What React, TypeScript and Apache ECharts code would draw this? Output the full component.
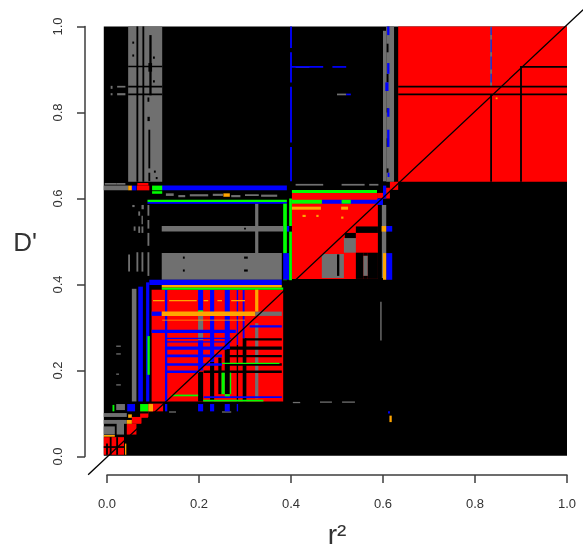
import React, { useEffect, useRef } from "react";
import * as echarts from "echarts";

type Block = [number, number, number, number];

const xTicks = { min: 0, max: 1, interval: 0.2 };
const diagonal = [[-0.041, -0.0426, 1.035, 1.039]];

const baseBlocks: Block[] = [[-0.007, 1, 0.002, 1]];

const redBlocks: Block[] = [
  [0.633, 1, 0.639, 1],
  [0.402, 0.589, 0.413, 0.613],
  [0.589, 0.615, 0.6, 0.613],
  [0.615, 0.633, 0.62, 0.639],
  [0.6, 0.615, 0.613, 0.625],
  [0.097, 0.383, 0.128, 0.388],
  [0.065, 0.092, 0.619, 0.63],
  [0.066, 0.09, 0.63, 0.636],
  [0.09, 0.122, 0.105, 0.123],
  [0.072, 0.09, 0.09, 0.105],
  [0.054, 0.075, 0.076, 0.092],
  [0.043, 0.064, 0.051, 0.076],
  [-0.007, 0.037, 0.004, 0.045],
];

const greyBlocks: Block[] = [
  [0.046, 0.12, 0.639, 1],
  [0.607, 0.624, 0.639, 1],
  [0.6, 0.607, 0.64, 0.99],
  [0.833, 0.837, 0.862, 1],
  [-0.007, 0.046, 0.619, 0.63],
  [0.119, 0.383, 0.523, 0.536],
  [0.119, 0.38, 0.411, 0.473],
  [0.322, 0.329, 0.473, 0.588],
  [0.054, 0.064, 0.128, 0.39],
  [0.322, 0.329, 0.135, 0.31],
  [0.322, 0.38, 0.327, 0.337],
  [0.198, 0.209, 0.27, 0.335],
  [-0.007, 0.043, 0.092, 0.101],
  [-0.007, 0.043, 0.076, 0.085],
  [-0.007, 0.017, 0.051, 0.07],
  [0.021, 0.037, 0.051, 0.085],
  [0.02, 0.039, 0.108, 0.122],
  [0.467, 0.515, 0.415, 0.471],
  [0.515, 0.541, 0.474, 0.508],
  [0.557, 0.567, 0.42, 0.467],
  [0.597, 0.607, 0.415, 0.585],
  [0.088, 0.092, 0.56, 0.585],
  [0.088, 0.092, 0.53, 0.55],
  [0.088, 0.092, 0.49, 0.52],
  [0.088, 0.092, 0.42, 0.475],
  [0.068, 0.072, 0.56, 0.57],
  [0.068, 0.072, 0.52, 0.535],
  [0.058, 0.062, 0.525, 0.535],
  [0.046, 0.05, 0.43, 0.47],
  [0.064, 0.068, 0.43, 0.475],
  [0.075, 0.079, 0.43, 0.475],
  [0.075, 0.079, 0.52, 0.535],
  [0.075, 0.08, 0.575, 0.585],
  [0.055, 0.06, 0.58, 0.585],
  [0.075, 0.078, 0.54, 0.56],
  [0.128, 0.145, 0.606, 0.612],
  [0.155, 0.17, 0.603, 0.608],
  [0.18, 0.22, 0.605, 0.61],
  [0.23, 0.252, 0.606, 0.611],
  [0.27, 0.29, 0.603, 0.608],
  [0.3, 0.33, 0.606, 0.61],
  [0.335, 0.37, 0.604, 0.609],
  [0.41, 0.47, 0.63, 0.634],
  [0.51, 0.56, 0.63, 0.634],
  [0.57, 0.59, 0.63, 0.634],
  [-0.005, 0.02, 0.632, 0.636],
  [0.02, 0.04, 0.632, 0.636],
  [0.463, 0.489, 0.125, 0.128],
  [0.511, 0.539, 0.125, 0.128],
  [0.404, 0.42, 0.124, 0.127],
  [0.25, 0.27, 0.102, 0.105],
  [0.135, 0.15, 0.102, 0.105],
  [0.02, 0.03, 0.255, 0.258],
  [0.02, 0.03, 0.237, 0.24],
  [0.02, 0.026, 0.19, 0.193],
  [0.02, 0.03, 0.165, 0.168],
  [0.008, 0.012, 0.855, 0.862],
  [0.022, 0.04, 0.858, 0.862],
  [0.008, 0.012, 0.84, 0.845],
  [0.022, 0.04, 0.84, 0.845],
  [0.41, 0.44, 0.904, 0.908],
  [0.5, 0.52, 0.84, 0.844],
  [0.594, 0.597, 0.27, 0.36],
];

const blackBlocks: Block[] = [
  [0.633, 1, 0.858, 0.862],
  [0.633, 1, 0.84, 0.844],
  [0.898, 1, 0.904, 0.908],
  [0.898, 0.902, 0.639, 0.906],
  [0.833, 0.837, 0.639, 0.842],
  [0.064, 0.068, 0.639, 1],
  [0.077, 0.081, 0.639, 1],
  [0.09, 0.094, 0.64, 0.66],
  [0.09, 0.094, 0.67, 0.76],
  [0.092, 0.097, 0.84, 0.98],
  [0.088, 0.093, 0.78, 0.79],
  [0.09, 0.098, 0.895, 0.915],
  [0.088, 0.092, 0.825, 0.835],
  [0.1, 0.104, 0.925, 0.93],
  [0.1, 0.104, 0.87, 0.875],
  [0.102, 0.106, 0.66, 0.665],
  [0.106, 0.11, 0.645, 0.65],
  [0.046, 0.12, 0.905, 0.909],
  [0.046, 0.12, 0.858, 0.862],
  [0.046, 0.12, 0.84, 0.844],
  [0.055, 0.059, 0.93, 0.935],
  [0.055, 0.059, 0.96, 0.965],
  [0.608, 0.612, 0.66, 0.67],
  [0.608, 0.612, 0.72, 0.74],
  [0.608, 0.612, 0.8, 0.81],
  [0.608, 0.612, 0.87, 0.89],
  [0.608, 0.612, 0.94, 0.96],
  [0.165, 0.169, 0.46, 0.465],
  [0.165, 0.169, 0.43, 0.435],
  [0.298, 0.306, 0.46, 0.465],
  [0.298, 0.306, 0.43, 0.435],
  [0.298, 0.302, 0.528, 0.532],
  [0.385, 0.39, 0.46, 0.465],
  [0.517, 0.541, 0.508, 0.52],
  [0.541, 0.589, 0.52, 0.535],
  [0.541, 0.557, 0.413, 0.474],
  [0.567, 0.589, 0.413, 0.474],
  [0.557, 0.567, 0.413, 0.42],
  [0.557, 0.567, 0.467, 0.474],
  [0.589, 0.597, 0.413, 0.6],
  [0.5, 0.505, 0.42, 0.47],
  [0.198, 0.209, 0.128, 0.197],
  [0.224, 0.233, 0.128, 0.22],
  [0.242, 0.249, 0.145, 0.23],
  [0.256, 0.267, 0.145, 0.25],
  [0.282, 0.285, 0.128, 0.26],
  [0.295, 0.303, 0.128, 0.275],
  [0.3, 0.38, 0.27, 0.275],
  [0.26, 0.38, 0.248, 0.256],
  [0.26, 0.38, 0.231, 0.236],
  [0.26, 0.38, 0.211, 0.217],
  [0.21, 0.38, 0.194, 0.2],
  [0.05, 0.09, 0.1, 0.105],
  [-0.002, 0.002, 0.004, 0.03],
  [0.006, 0.01, 0.004, 0.045],
  [0.02, 0.024, 0.004, 0.045],
  [-0.007, 0.037, 0.02, 0.024],
];

const blueBlocks: Block[] = [
  [0.119, 0.391, 0.619, 0.63],
  [0.088, 0.391, 0.588, 0.592],
  [0.467, 0.593, 0.588, 0.597],
  [0.383, 0.396, 0.523, 0.536],
  [0.383, 0.396, 0.411, 0.473],
  [0.092, 0.38, 0.399, 0.411],
  [0.068, 0.078, 0.128, 0.395],
  [0.085, 0.092, 0.128, 0.405],
  [0.054, 0.064, 0.619, 0.63],
  [0.126, 0.131, 0.128, 0.388],
  [0.198, 0.209, 0.335, 0.388],
  [0.198, 0.209, 0.2, 0.27],
  [0.224, 0.233, 0.22, 0.388],
  [0.256, 0.267, 0.25, 0.388],
  [0.282, 0.285, 0.26, 0.388],
  [0.295, 0.299, 0.275, 0.388],
  [0.126, 0.131, 0.105, 0.122],
  [0.198, 0.209, 0.105, 0.122],
  [0.224, 0.233, 0.105, 0.122],
  [0.256, 0.267, 0.105, 0.122],
  [0.282, 0.285, 0.105, 0.122],
  [0.044, 0.061, 0.105, 0.122],
  [0.097, 0.119, 0.327, 0.337],
  [0.097, 0.28, 0.287, 0.295],
  [0.126, 0.27, 0.273, 0.276],
  [0.126, 0.27, 0.265, 0.268],
  [0.126, 0.26, 0.248, 0.256],
  [0.13, 0.25, 0.231, 0.237],
  [0.13, 0.25, 0.211, 0.217],
  [0.13, 0.2, 0.194, 0.2],
  [0.31, 0.38, 0.3, 0.305],
  [0.21, 0.38, 0.136, 0.14],
  [0.398, 0.402, 0.64, 0.72],
  [0.398, 0.402, 0.73, 0.86],
  [0.398, 0.402, 0.87, 0.94],
  [0.398, 0.402, 0.95, 1],
  [0.4, 0.47, 0.904, 0.908],
  [0.49, 0.52, 0.904, 0.908],
  [0.52, 0.53, 0.84, 0.844],
  [0.834, 0.836, 0.87, 0.89],
  [0.834, 0.836, 0.9, 0.93],
  [0.834, 0.836, 0.94, 0.97],
  [0.834, 0.836, 0.98, 0.998],
  [0.609, 0.614, 0.98, 1],
  [0.609, 0.614, 0.89, 0.915],
  [0.605, 0.612, 0.85, 0.87],
  [0.609, 0.614, 0.79, 0.81],
  [0.609, 0.614, 0.72, 0.76],
  [0.61, 0.614, 0.65, 0.66],
  [0.587, 0.6, 0.585, 0.6],
  [0.6, 0.607, 0.6, 0.63],
  [0.607, 0.62, 0.523, 0.536],
  [0.607, 0.62, 0.411, 0.473],
  [0.611, 0.615, 0.1, 0.105],
];

const greenBlocks: Block[] = [
  [0.098, 0.12, 0.619, 0.63],
  [0.098, 0.12, 0.611, 0.617],
  [0.088, 0.391, 0.592, 0.597],
  [0.383, 0.391, 0.473, 0.588],
  [0.383, 0.391, 0.41, 0.411],
  [0.396, 0.402, 0.41, 0.523],
  [0.396, 0.402, 0.536, 0.6],
  [0.119, 0.383, 0.388, 0.393],
  [0.402, 0.587, 0.613, 0.62],
  [0.402, 0.467, 0.588, 0.597],
  [0.51, 0.53, 0.588, 0.597],
  [0.072, 0.09, 0.105, 0.122],
  [0.088, 0.093, 0.19, 0.28],
  [0.25, 0.375, 0.215, 0.218],
  [0.249, 0.256, 0.145, 0.195],
  [0.267, 0.27, 0.145, 0.195],
  [0.256, 0.267, 0.14, 0.145],
  [0.14, 0.198, 0.14, 0.144],
  [0.209, 0.34, 0.128, 0.132],
  [0.198, 0.209, 0.33, 0.34],
  [0.012, 0.016, 0.105, 0.12],
];

const orangeBlocks: Block[] = [
  [0.119, 0.38, 0.393, 0.399],
  [0.322, 0.329, 0.337, 0.388],
  [0.119, 0.322, 0.327, 0.337],
  [0.1, 0.125, 0.361, 0.364],
  [0.135, 0.195, 0.361, 0.364],
  [0.21, 0.22, 0.361, 0.364],
  [0.24, 0.25, 0.361, 0.364],
  [0.27, 0.3, 0.361, 0.364],
  [0.402, 0.465, 0.574, 0.581],
  [0.509, 0.524, 0.574, 0.581],
  [0.425, 0.432, 0.557, 0.562],
  [0.455, 0.46, 0.557, 0.562],
  [0.509, 0.514, 0.553, 0.558],
  [0.597, 0.607, 0.523, 0.536],
  [0.6, 0.607, 0.411, 0.473],
  [0.046, 0.054, 0.619, 0.63],
  [0.09, 0.1, 0.105, 0.122],
  [0.046, 0.054, 0.09, 0.098],
  [0.043, 0.054, 0.076, 0.085],
  [0.039, 0.042, 0.004, 0.03],
  [0.253, 0.267, 0.604, 0.612],
  [0.845, 0.849, 0.831, 0.835],
  [0.614, 0.619, 0.08, 0.095],
  [-0.007, 0.017, 0.046, 0.05],
  [0.12, 0.3, 0.316, 0.318],
];

const layers = [
  { data: baseBlocks, color: "#000000" },
  { data: redBlocks, color: "#ff0000" },
  { data: greyBlocks, color: "#707070" },
  { data: blackBlocks, color: "#000000" },
  { data: blueBlocks, color: "#0000ff" },
  { data: greenBlocks, color: "#00ff00" },
  { data: orangeBlocks, color: "#ffa500" },
];

export default function App() {
  const ref = useRef<HTMLDivElement>(null);
  useEffect(() => {
    document.body.style.margin = "0";
    const chart = echarts.init(ref.current!, undefined, { renderer: "svg" });
    const axisLine = { show: true, onZero: false, lineStyle: { color: "#3c3c3c", width: 1.5 } };
    const axisTick = { show: true, length: 8, inside: false, lineStyle: { color: "#3c3c3c", width: 1.5 } };
    const textFont = "Liberation Sans";
    chart.setOption({
      animation: false,
      backgroundColor: "#ffffff",
      grid: { left: 107, top: 26.5, width: 460, height: 430, outerBoundsMode: "none" },
      xAxis: {
        type: "value", ...xTicks, offset: 18.5, position: "bottom",
        axisLine, axisTick, splitLine: { show: false },
        axisLabel: { fontFamily: textFont, fontSize: 13, color: "#333", margin: 22, formatter: (v: number) => v.toFixed(1), hideOverlap: false },
        name: "r\u00b2", nameLocation: "middle", nameGap: 45,
        nameTextStyle: { fontFamily: textFont, fontSize: 28, color: "#333" },
      },
      yAxis: {
        type: "value", ...xTicks, offset: 22, position: "left",
        axisLine, axisTick, splitLine: { show: false },
        axisLabel: { fontFamily: textFont, fontSize: 13, color: "#333", rotate: 90, margin: 21, formatter: (v: number) => v.toFixed(1), hideOverlap: false },
        name: "D'", nameLocation: "middle", nameGap: 48, nameRotate: 0,
        nameTextStyle: { fontFamily: textFont, fontSize: 26, color: "#333" },
      },
      series: [
        ...layers.map((layer, i) => ({
          type: "custom",
          z: 2 + i,
          silent: true,
          data: layer.data,
          encode: { x: [0, 1], y: [2, 3] },
          renderItem: (_: any, api: any) => {
            const a = api.coord([api.value(0), api.value(2)]);
            const b = api.coord([api.value(1), api.value(3)]);
            return {
              type: "rect",
              shape: { x: a[0], y: b[1], width: b[0] - a[0], height: a[1] - b[1] },
              style: { fill: layer.color },
            };
          },
        })),
        {
          type: "custom", z: 20, silent: true,
          data: diagonal,
          encode: { x: [0, 2], y: [1, 3] },
          renderItem: (_: any, api: any) => {
            const a = api.coord([api.value(0), api.value(1)]);
            const b = api.coord([api.value(2), api.value(3)]);
            return {
              type: "line",
              shape: { x1: a[0], y1: a[1], x2: b[0], y2: b[1] },
              style: { stroke: "#000000", lineWidth: 1.3 },
            };
          },
        },
      ],
    });
    return () => chart.dispose();
  }, []);
  return <div ref={ref} style={{ width: 583, height: 549, filter: "blur(0.4px)" }} />;
}
